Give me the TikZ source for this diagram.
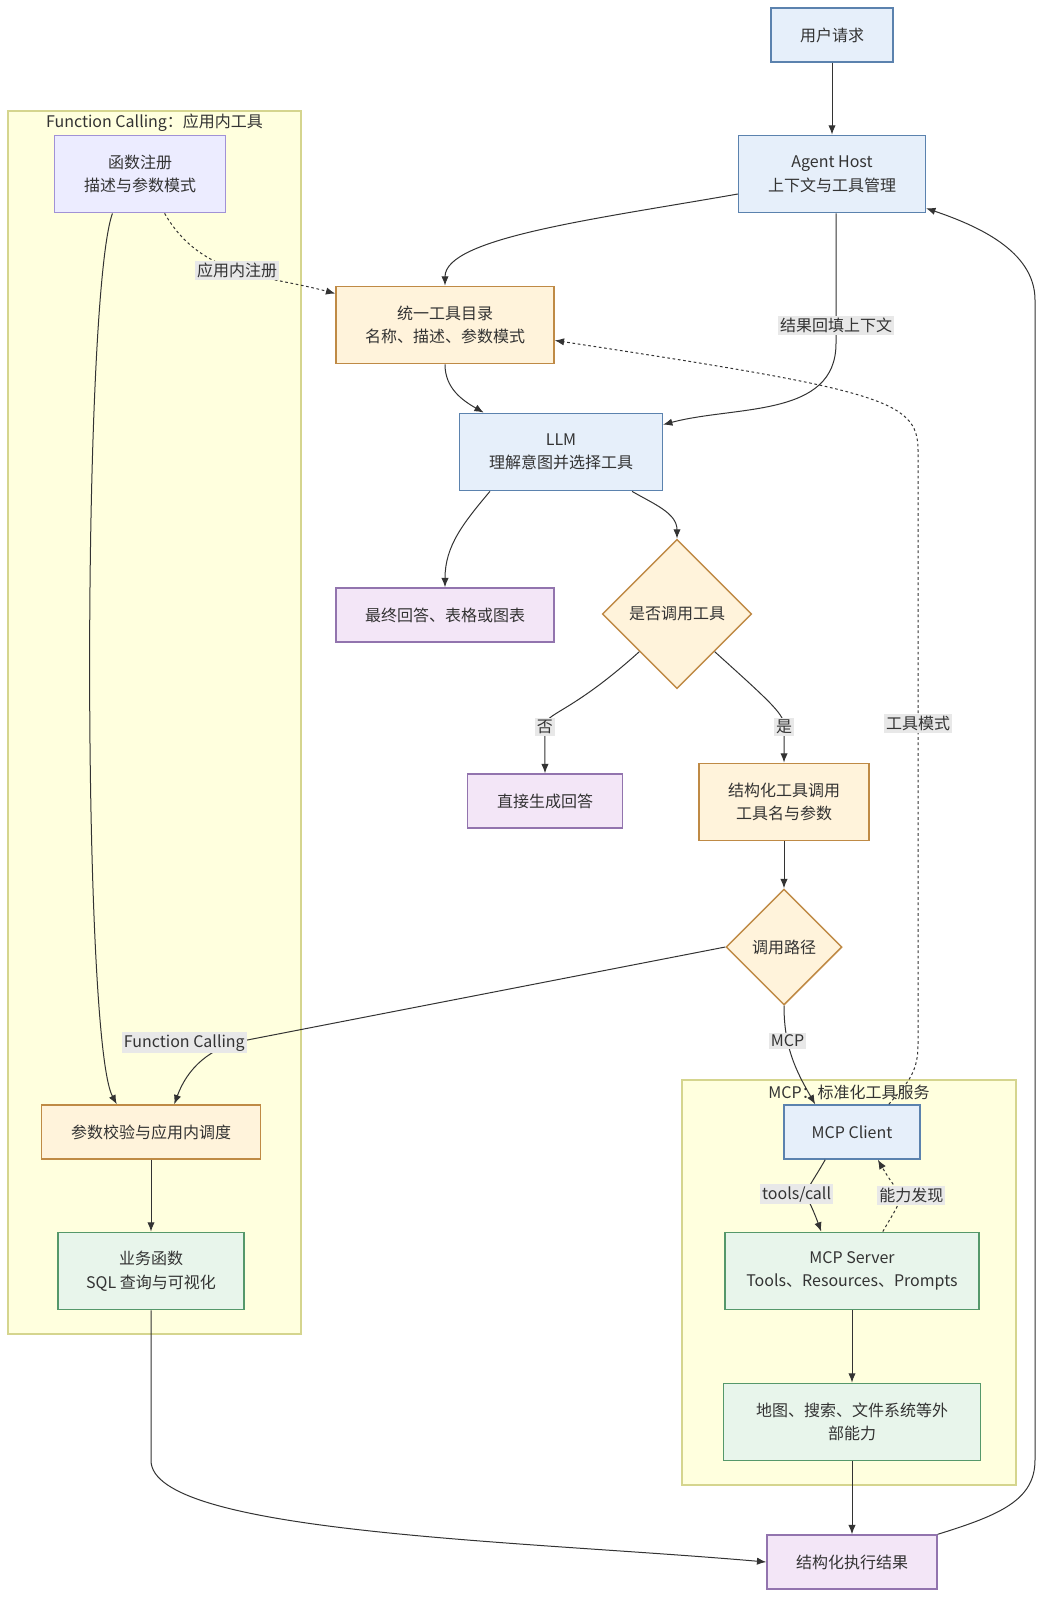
\documentclass[tikz,border=0pt]{standalone}
\usepackage{fontspec}
\setmainfont{Noto Sans CJK SC}
\usetikzlibrary{shapes.geometric,arrows.meta}

\definecolor{hostfill}{HTML}{E6EFFA}
\definecolor{hostline}{HTML}{5B82AE}
\definecolor{toolfill}{HTML}{FFF3DB}
\definecolor{toolline}{HTML}{BF8A45}
\definecolor{answerfill}{HTML}{F3E6F7}
\definecolor{answerline}{HTML}{9274AE}
\definecolor{regfill}{HTML}{ECECFF}
\definecolor{regline}{HTML}{A192D6}
\definecolor{execfill}{HTML}{E8F5EB}
\definecolor{execline}{HTML}{55986A}
\definecolor{groupfill}{HTML}{FFFFDE}
\definecolor{groupline}{HTML}{D5D58E}
\definecolor{tagfill}{HTML}{E8E8E8}
\definecolor{ink}{HTML}{333333}

\begin{document}
\begin{tikzpicture}[
    x=0.75pt, y=0.75pt,
    every node/.style={font=\fontsize{12}{17.7}\selectfont, text=ink},
    box/.style={
        rectangle, line width=1.1pt, align=center, inner sep=2pt,
        minimum height=40.5pt
    },
    tall/.style={minimum height=58pt},
    host/.style={box, draw=hostline, fill=hostfill},
    tool/.style={box, draw=toolline, fill=toolfill},
    answer/.style={box, draw=answerline, fill=answerfill},
    registry/.style={box, draw=regline, fill=regfill},
    exec/.style={box, draw=execline, fill=execfill},
    decision/.style={
        diamond, aspect=1, inner sep=0pt, line width=1.1pt,
        draw=toolline, fill=toolfill
    },
    group/.style={rectangle, draw=groupline, fill=groupfill, line width=1pt},
    calls/.style={-{Latex[length=7pt,width=5.5pt]}, line width=0.75pt, draw=ink},
    declares/.style={calls, dash pattern=on 2pt off 2pt},
    tag/.style={fill=tagfill, inner sep=1.5pt}
]
\useasboundingbox (0,0) rectangle (1052,-1610);

% Groups
\node[group, minimum width=219.75pt, minimum height=917.25pt] (fcgroup) at (154.5, -722.5) {};
\node (fctitle) at (154.5, -123) {Function Calling：应用内工具};
\node[group, minimum width=250.5pt, minimum height=303.75pt] (mcpgroup) at (849, -1282.5) {};
\node (mcptitle) at (849, -1092) {MCP：标准化工具服务};

% Host side
\node[host, minimum width=91.5pt] (user) at (832, -35) {用户请求};
\node[host, tall, minimum width=140pt] (agent) at (832, -174) {Agent Host\\上下文与工具管理};
\node[tool, tall, minimum width=163.5pt] (catalog) at (445, -325) {统一工具目录\\名称、描述、参数模式};
\node[host, tall, minimum width=152pt] (llm) at (561, -452) {LLM\\理解意图并选择工具};
\node[answer, minimum width=163.5pt] (final) at (445, -615) {最终回答、表格或图表};
\node[decision, minimum size=112pt] (ask) at (677, -614) {是否调用工具};
\node[answer, minimum width=116pt] (direct) at (545, -801) {直接生成回答};
\node[tool, tall, minimum width=127.5pt] (toolcall) at (784, -802) {结构化工具调用\\工具名与参数};
\node[decision, minimum size=87pt] (route) at (784, -947) {调用路径};

% Function Calling
\node[registry, tall, minimum width=128pt] (reg) at (140, -174) {函数注册\\描述与参数模式};
\node[tool, minimum width=164pt] (check) at (151, -1132) {参数校验与应用内调度};
\node[exec, tall, minimum width=139.5pt] (biz) at (151, -1271) {业务函数\\SQL 查询与可视化};

% MCP
\node[host, minimum width=102pt] (client) at (852, -1132) {MCP Client};
\node[exec, tall, minimum width=190.5pt] (server) at (852, -1271) {MCP Server\\Tools、Resources、Prompts};
\node[exec, tall, minimum width=193pt] (ext) at (852, -1422) {地图、搜索、文件系统等外\\部能力};
\node[answer, minimum width=127.5pt] (result) at (852, -1562) {结构化执行结果};

% Relationships
\draw[calls] (user) -- (agent);
\draw[calls] (agent.192) to[out=190, in=90, out looseness=1.2, in looseness=0.4] (catalog.north);
\draw[calls] ([xshift=3pt]agent.south) -- node[tag, pos=0.86] {结果回填上下文} ++(0,-130)
    to[out=-90, in=15] (llm.15);
\draw[declares] (reg.302) to[out=-60, in=165] node[tag, pos=0.5] {应用内注册} (catalog.164);
\draw[calls] (catalog.south) to[out=-90, in=150] (llm.153);
\draw[calls] (llm.209) to[out=-130, in=90] (final.north);
\draw[calls] (llm.331) to[out=-30, in=90] (ask.north);
\draw[calls] (ask.south west) to[out=-138, in=90, out looseness=2, in looseness=0.3] ++(-94.5,-75)
    -- node[tag, pos=0] {否} (direct.north);
\draw[calls] (ask.south east) to[out=-42, in=90, out looseness=2, in looseness=0.3] ++(69.5,-75)
    -- node[tag, pos=0] {是} (toolcall.north);
\draw[calls] (toolcall) -- (route);
\draw[calls] (route.west) -- ++(-478,-93)
    node[tag, anchor=east, yshift=-2pt] {Function Calling}
    to[out=190, in=70] (check.50);
\draw[calls] (route.south) to[out=-90, in=120] node[tag, pos=0.33] {MCP} (client.143);

\draw[calls] (reg.235) .. controls (82,-300) and (82,-1040) .. (check.141);
\draw[calls] (check) -- (biz);
\draw[calls] (biz.south) -- ++(0,-150) to[out=-90, in=175, out looseness=0.3] (result.west);

\draw[calls] (client.226) to[out=-120, in=110, looseness=1.8]
    node[tag, xshift=-8pt] {tools/call} (server.128);
\draw[declares] (server.52) to[out=60, in=-60, looseness=1.8]
    node[tag, xshift=9pt] {能力发现} (client.313);
\draw[calls] (server) -- (ext);
\draw[calls] (ext) -- (result);

% Feedback
\draw[calls] (result.north east) .. controls (1000,-1515) and (1035,-1500) .. (1035,-1460)
    -- (1035,-300) .. controls (1035,-250) and (975,-225) .. (agent.340);
\draw[declares] (client.37) .. controls (905,-1085) and (918,-1075) .. (918,-1045)
    -- node[tag, pos=0.54] {工具模式} (918,-450)
    .. controls (918,-400) and (880,-390) .. (catalog.352);

\end{tikzpicture}
\end{document}
